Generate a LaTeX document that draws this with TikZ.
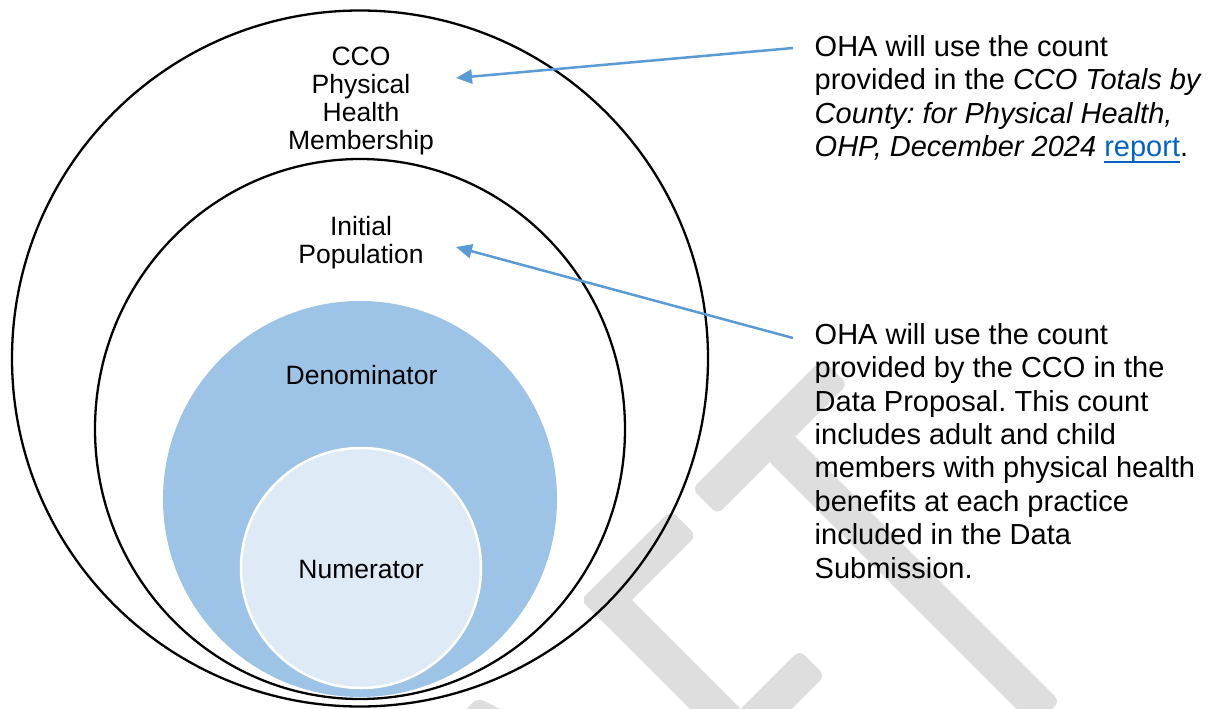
\documentclass[tikz,border=0pt]{standalone}
\usepackage{fontspec}
\setmainfont{Liberation Sans}
\usetikzlibrary{arrows.meta}
\definecolor{wmgray}{RGB}{222,222,222}
\definecolor{denblue}{RGB}{157,195,230}
\definecolor{numblue}{RGB}{222,235,247}
\definecolor{arrowblue}{RGB}{91,155,213}
\definecolor{linkblue}{RGB}{5,99,193}
\newcommand{\wmbar}[4]{\fill[wm] (#1,#2) -- (#3,#2) -- (#3,#4) -- (#1,#4) -- cycle;}
\newcommand{\linkword}[1]{\setbox0\hbox{#1}\rlap{\rule[-6.5pt]{\wd0}{1.8pt}}\box0}
\frenchspacing
\begin{document}
\begin{tikzpicture}[x=1pt,y=-1pt,
  ring/.style={draw=black,line width=2.3pt},
  lbl/.style={align=center,inner sep=0pt,anchor=north,font=\fontsize{26.5}{28}\selectfont},
  note/.style={align=left,inner sep=0pt,anchor=north west,font=\fontsize{29}{33.4}\selectfont},
  pointer/.style={draw=arrowblue,line width=2.5pt,-{Triangle[length=16pt,width=14pt]}},
  wm/.style={fill=wmgray,rounded corners=7pt}]
\useasboundingbox (0,0) rectangle (1213,709);
\fill[white] (0,0) rectangle (1213,709);
% watermark
\begin{scope}
\clip (0,0) rectangle (1213,709);
\begin{scope}[shift={(581pt,-600pt)},x={(0.7071pt,0.7071pt)},y={(0.7071pt,-0.7071pt)}]
  % A (apex only visible)
  \fill[wm] (-200,-4) -- (-142,-4) -- (-14,400) -- (-50,400) -- (-171,20) -- (-292,400) -- (-330,400) -- cycle;
  % F
  \wmbar{0}{0}{127}{36}
  \wmbar{0}{190}{119}{226}
  \wmbar{0}{0}{36}{500}
  % T
  \wmbar{157}{0}{341}{36}
  \wmbar{231}{0}{267}{410}
\end{scope}
\end{scope}
% rings
\draw[ring] (360,358.5) ellipse [x radius=348pt, y radius=348pt];
\draw[ring] (360,429) ellipse [x radius=265pt, y radius=270pt];
\fill[denblue] (360,499) ellipse [x radius=197pt, y radius=198pt];
\filldraw[fill=numblue,draw=white,line width=2.5pt] (361,568) ellipse [x radius=120pt, y radius=120pt];
% labels
\node[lbl] (cco) at (361,45) {\rule{0pt}{20pt}CCO\\Physical\\Health\\Membership};
\node[lbl] (init) at (361,215.5) {\rule{0pt}{20pt}Initial\\Population};
\node[lbl] (den) at (361.5,364) {\rule{0pt}{20pt}Denominator};
\node[lbl] (num) at (361,558) {\rule{0pt}{20pt}Numerator};
% notes
\node[note] (note1) at (814.5,34) {\rule{0pt}{22pt}OHA will use the count\\provided in the \textit{CCO Totals by}\\\textit{County: for Physical Health,}\\\textit{OHP, December 2024} \textcolor{linkblue}{\linkword{report}}.};
\node[note] (note2) at (814.5,322) {\rule{0pt}{22pt}OHA will use the count\\provided by the CCO in the\\Data Proposal. This count\\includes adult and child\\members with physical health\\benefits at each practice\\included in the Data\\Submission.};
% pointers
\coordinate (p1s) at (793,48);
\coordinate (p1t) at (456,78);
\coordinate (p2s) at (793,338);
\coordinate (p2t) at (456,247);
\draw[pointer] (p1s) -- (p1t);
\draw[pointer] (p2s) -- (p2t);
\end{tikzpicture}
\end{document}
